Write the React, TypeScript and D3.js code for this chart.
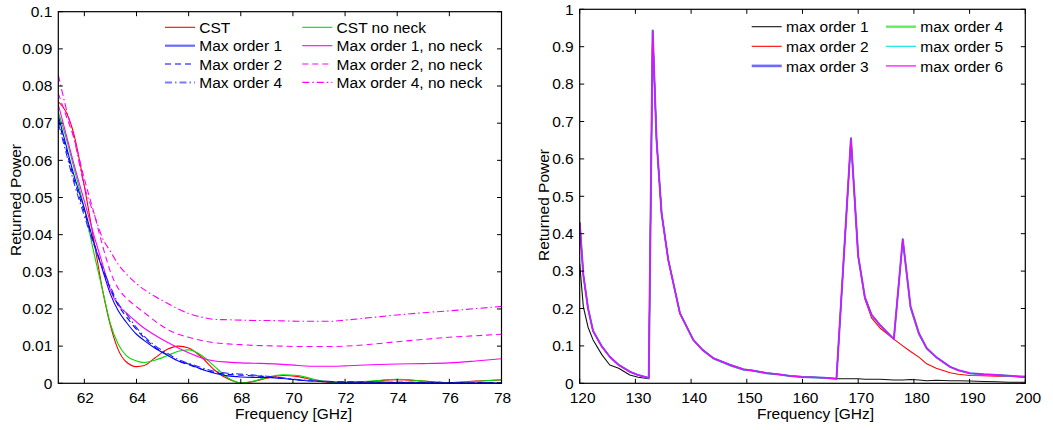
import React from "react";
import * as d3 from "d3";

// ---------- Left panel data (61–78 GHz) ----------
const freqL = [61, 61.3, 61.6, 62, 62.4, 62.7, 63, 63.3, 63.6, 64, 64.3, 64.7, 65.2, 65.6, 66, 66.5, 67, 67.5, 68, 68.5, 69, 69.6, 70.2, 70.8, 71.5, 72, 73, 74, 75, 76, 77, 78];
const cst = [0.0758, 0.073, 0.067, 0.053, 0.037, 0.025, 0.0155, 0.009, 0.0058, 0.0045, 0.0048, 0.0068, 0.0092, 0.01, 0.0095, 0.007, 0.0035, 0.0012, 0.0001, 0.0005, 0.0014, 0.0021, 0.0018, 0.0009, 0.0002, 0.0001, 0.0005, 0.001, 0.0006, 0.0002, 0.0006, 0.0009];
const cstNoNeck = [0.073, 0.066, 0.058, 0.047, 0.034, 0.025, 0.016, 0.0105, 0.0075, 0.006, 0.0056, 0.0062, 0.0075, 0.0086, 0.009, 0.0075, 0.0045, 0.0015, 0.0001, 0.0006, 0.0016, 0.0023, 0.0021, 0.0011, 0.0003, 0.0002, 0.0006, 0.0011, 0.0006, 0.0001, 0.0005, 0.001];
const maxOrder1 = [0.072, 0.064, 0.056, 0.047, 0.037, 0.0305, 0.024, 0.0195, 0.0165, 0.0132, 0.0115, 0.0095, 0.0075, 0.006, 0.0052, 0.0038, 0.0027, 0.002, 0.0017, 0.0016, 0.0016, 0.0013, 0.0009, 0.0006, 0.0004, 0.0003, 0.0003, 0.0002, 0.0002, 0.0001, 0.0001, 0.0001];
const maxOrder2 = [0.071, 0.063, 0.055, 0.046, 0.037, 0.031, 0.0255, 0.021, 0.018, 0.0145, 0.0122, 0.0098, 0.0076, 0.006, 0.005, 0.0038, 0.0029, 0.0024, 0.0022, 0.002, 0.0018, 0.0014, 0.0009, 0.0006, 0.0004, 0.0004, 0.0003, 0.0003, 0.0003, 0.0002, 0.0002, 0.0002];
const maxOrder4 = [0.07, 0.062, 0.054, 0.045, 0.0365, 0.031, 0.026, 0.0215, 0.0188, 0.015, 0.0126, 0.0102, 0.008, 0.0064, 0.0054, 0.0042, 0.0032, 0.0027, 0.0025, 0.0022, 0.0019, 0.0015, 0.001, 0.0007, 0.0005, 0.0004, 0.0003, 0.0003, 0.0003, 0.0002, 0.0002, 0.0002];
const maxOrder1NoNeck = [0.075, 0.067, 0.059, 0.049, 0.039, 0.032, 0.025, 0.021, 0.019, 0.0165, 0.0148, 0.013, 0.011, 0.0095, 0.0082, 0.0068, 0.006, 0.0057, 0.0055, 0.0054, 0.0053, 0.0051, 0.0048, 0.0046, 0.0046, 0.0047, 0.005, 0.0052, 0.0053, 0.0055, 0.006, 0.0066];
const maxOrder2NoNeck = [0.078, 0.072, 0.066, 0.055, 0.045, 0.037, 0.03, 0.0255, 0.023, 0.0206, 0.019, 0.0168, 0.0145, 0.0132, 0.0124, 0.0115, 0.0109, 0.0106, 0.0104, 0.0102, 0.0101, 0.01, 0.0099, 0.0099, 0.0099, 0.01, 0.0105, 0.0112, 0.0118, 0.0124, 0.0128, 0.0132];
const maxOrder4NoNeck = [0.083, 0.074, 0.066, 0.053, 0.045, 0.039, 0.0355, 0.032, 0.0295, 0.0268, 0.0252, 0.0234, 0.0215, 0.02, 0.0188, 0.0178, 0.0172, 0.0171, 0.017, 0.0169, 0.0169, 0.0168, 0.0167, 0.0167, 0.0167, 0.017, 0.0177, 0.0184, 0.019, 0.0195, 0.0201, 0.0207];

const xTicksL = [62, 64, 66, 68, 70, 72, 74, 76, 78];
const yTicksL = [0, 0.01, 0.02, 0.03, 0.04, 0.05, 0.06, 0.07, 0.08, 0.09, 0.1];

// ---------- Right panel data (120–200 GHz) ----------
const freqR = [120, 120.65, 121.5, 122.4, 124, 125.4, 127, 129, 130.5, 132.4, 133.1, 133.8, 134.7, 135.9, 138, 140.4, 142, 144, 147, 149.4, 151, 153.6, 155.5, 157.8, 160, 163.8, 166.1, 168.7, 170, 171.2, 172.4, 173.9, 176.4, 178, 179.4, 180.9, 182.3, 184, 186.5, 188, 190.1, 192.5, 194.9, 197, 199.6, 200];
const order1 = [0.32, 0.205, 0.15, 0.116, 0.076, 0.049, 0.04, 0.022, 0.016, 0.012, 0.943, 0.65, 0.455, 0.33, 0.187, 0.116, 0.09, 0.067, 0.049, 0.037, 0.034, 0.027, 0.024, 0.0196, 0.017, 0.015, 0.012, 0.012, 0.012, 0.011, 0.011, 0.011, 0.009, 0.009, 0.01, 0.009, 0.007, 0.008, 0.007, 0.007, 0.006, 0.005, 0.004, 0.003, 0.003, 0.003];
const order2 = [0.43, 0.29, 0.2, 0.14, 0.098, 0.071, 0.049, 0.031, 0.022, 0.014, 0.943, 0.65, 0.455, 0.33, 0.187, 0.116, 0.09, 0.067, 0.05, 0.038, 0.035, 0.028, 0.025, 0.02, 0.018, 0.015, 0.013, 0.655, 0.34, 0.225, 0.175, 0.148, 0.118, 0.1, 0.085, 0.07, 0.052, 0.04, 0.028, 0.024, 0.021, 0.02, 0.019, 0.019, 0.019, 0.019];
const order3 = [0.43, 0.29, 0.2, 0.14, 0.098, 0.071, 0.049, 0.031, 0.022, 0.014, 0.943, 0.65, 0.455, 0.33, 0.187, 0.116, 0.09, 0.067, 0.049, 0.037, 0.034, 0.027, 0.024, 0.0196, 0.017, 0.015, 0.012, 0.655, 0.34, 0.23, 0.183, 0.156, 0.118, 0.385, 0.205, 0.134, 0.094, 0.07, 0.044, 0.035, 0.027, 0.024, 0.022, 0.02, 0.017, 0.017];
const order4 = [0.43, 0.29, 0.2, 0.14, 0.098, 0.071, 0.049, 0.031, 0.022, 0.014, 0.943, 0.65, 0.455, 0.33, 0.187, 0.116, 0.09, 0.066, 0.047, 0.036, 0.034, 0.027, 0.024, 0.0196, 0.017, 0.015, 0.012, 0.655, 0.34, 0.23, 0.183, 0.156, 0.118, 0.385, 0.2, 0.13, 0.092, 0.069, 0.044, 0.034, 0.026, 0.024, 0.022, 0.02, 0.018, 0.018];
const order5 = [0.43, 0.29, 0.2, 0.14, 0.098, 0.071, 0.049, 0.031, 0.022, 0.014, 0.943, 0.65, 0.455, 0.33, 0.187, 0.116, 0.09, 0.067, 0.049, 0.037, 0.034, 0.027, 0.024, 0.0196, 0.017, 0.015, 0.012, 0.655, 0.34, 0.23, 0.183, 0.156, 0.118, 0.385, 0.205, 0.134, 0.094, 0.07, 0.044, 0.035, 0.027, 0.024, 0.022, 0.02, 0.018, 0.018];
const order6 = [0.43, 0.29, 0.2, 0.14, 0.098, 0.071, 0.049, 0.031, 0.022, 0.014, 0.94, 0.65, 0.455, 0.33, 0.187, 0.116, 0.09, 0.067, 0.049, 0.037, 0.034, 0.027, 0.024, 0.0196, 0.017, 0.015, 0.012, 0.653, 0.34, 0.23, 0.183, 0.156, 0.118, 0.385, 0.205, 0.134, 0.094, 0.07, 0.044, 0.035, 0.027, 0.024, 0.022, 0.02, 0.017, 0.016];

const xTicksR = [120, 130, 140, 150, 160, 170, 180, 190, 200];
const yTicksR = [0, 0.1, 0.2, 0.3, 0.4, 0.5, 0.6, 0.7, 0.8, 0.9, 1];

const FONT = "'Liberation Sans', Arial, Helvetica, sans-serif";
const FS = 15.5;

type Series = { name: string; xs: number[]; ys: number[]; color: string; width: number; dash?: string; legendColor?: string; legendWidth?: number };

const leftSeries: Series[] = [
  { name: "CST", xs: freqL, ys: cst, color: "#ff0000", width: 1.1 },
  { name: "CST no neck", xs: freqL, ys: cstNoNeck, color: "#00dd00", width: 1.1 },
  { name: "Max order 1", xs: freqL, ys: maxOrder1, color: "#0000ff", width: 1.1, legendColor: "#6a6aff", legendWidth: 2.2 },
  { name: "Max order 1, no neck", xs: freqL, ys: maxOrder1NoNeck, color: "#ff00ff", width: 1.1 },
  { name: "Max order 2", xs: freqL, ys: maxOrder2, color: "#0000ff", width: 1.1, dash: "6,4" },
  { name: "Max order 2, no neck", xs: freqL, ys: maxOrder2NoNeck, color: "#ff00ff", width: 1.1, dash: "6,4" },
  { name: "Max order 4", xs: freqL, ys: maxOrder4, color: "#2a2aff", width: 1.1, dash: "7,3,1.5,3", legendColor: "#7a7aff", legendWidth: 2 },
  { name: "Max order 4, no neck", xs: freqL, ys: maxOrder4NoNeck, color: "#ff00ff", width: 1.1, dash: "7,3,1.5,3" },
];

const rightSeries: Series[] = [
  { name: "max order 1", xs: freqR, ys: order1, color: "#111111", width: 1.1 },
  { name: "max order 4", xs: freqR, ys: order4, color: "#33dd33", width: 1.4, legendColor: "#5fee5f", legendWidth: 2.4 },
  { name: "max order 2", xs: freqR, ys: order2, color: "#ff0000", width: 1.1 },
  { name: "max order 5", xs: freqR, ys: order5, color: "#00e5e5", width: 1.1 },
  { name: "max order 3", xs: freqR, ys: order3, color: "#5c5cff", width: 2, legendColor: "#6a6aff", legendWidth: 2.6 },
  { name: "max order 6", xs: freqR, ys: order6, color: "#ff00ff", width: 1.1, legendColor: "#ff55ff", legendWidth: 1.8 },
];
// draw order for right panel (order 6 on top)
const rightDrawOrder = ["max order 1", "max order 2", "max order 4", "max order 5", "max order 3", "max order 6"];

type PanelProps = {
  id: string;
  x0: number; x1: number; y0: number; y1: number;
  xDomain: [number, number]; yDomain: [number, number];
  xTicks: number[]; yTicks: number[];
  yDigits: number;
  series: Series[];
  drawOrder?: string[];
  curve: d3.CurveFactory;
  legend: { col: number[]; rowY: number[]; lineLen: number; textGap: number };
  xLabelX: number; yLabelX: number; yLabelY: number; yTickGap: number; xTickShift: number;
};

function Panel(p: PanelProps) {
  const xs = d3.scaleLinear().domain(p.xDomain).range([p.x0, p.x1]);
  const ys = d3.scaleLinear().domain(p.yDomain).range([p.y1, p.y0]);
  const line = (s: Series) =>
    d3.line<number>().x((_, i) => xs(s.xs[i])).y((v) => ys(v)).curve(p.curve)(s.ys) || "";
  const tl = 4.5;
  const ordered = p.drawOrder ? p.drawOrder.map((n) => p.series.find((s) => s.name === n)!) : p.series;
  const nRows = p.legend.rowY.length;
  return (
    <g>
      <defs>
        <clipPath id={p.id}>
          <rect x={p.x0} y={p.y0} width={p.x1 - p.x0} height={p.y1 - p.y0} />
        </clipPath>
      </defs>
      <g clipPath={`url(#${p.id})`}>
        {ordered.map((s) => (
          <path key={s.name} d={line(s)} fill="none" stroke={s.color} strokeWidth={s.width} strokeDasharray={s.dash} strokeLinejoin="round" />
        ))}
      </g>
      {/* ticks */}
      {p.xTicks.map((t) => (
        <g key={"xt" + t}>
          <line x1={xs(t)} x2={xs(t)} y1={p.y1} y2={p.y1 - tl} stroke="#000" strokeWidth={1} />
          <line x1={xs(t)} x2={xs(t)} y1={p.y0} y2={p.y0 + tl} stroke="#000" strokeWidth={1} />
          <text x={xs(t) + p.xTickShift} y={402.5} textAnchor="middle" fontFamily={FONT} fontSize={FS} fill="#000">{String(t)}</text>
        </g>
      ))}
      {p.yTicks.map((t) => (
        <g key={"yt" + t}>
          <line x1={p.x0} x2={p.x0 + tl} y1={ys(t)} y2={ys(t)} stroke="#000" strokeWidth={1} />
          <line x1={p.x1} x2={p.x1 - tl} y1={ys(t)} y2={ys(t)} stroke="#000" strokeWidth={1} />
          <text x={p.x0 - p.yTickGap} y={ys(t) + 5.3} textAnchor="end" fontFamily={FONT} fontSize={FS} fill="#000">{String(+t.toFixed(p.yDigits))}</text>
        </g>
      ))}
      <rect x={p.x0} y={p.y0} width={p.x1 - p.x0} height={p.y1 - p.y0} fill="none" stroke="#000" strokeWidth={1.2} />
      {/* legend */}
      {p.series.map((s, i) => {
        const col = Math.floor(i % 2);
        const row = Math.floor(i / 2);
        if (row >= nRows) return null;
        const lx = p.legend.col[col];
        const ly = p.legend.rowY[row];
        return (
          <g key={"lg" + s.name}>
            <line x1={lx} x2={lx + p.legend.lineLen} y1={ly} y2={ly} stroke={s.legendColor || s.color} strokeWidth={s.legendWidth || s.width} strokeDasharray={s.dash} />
            <text x={lx + p.legend.lineLen + p.legend.textGap} y={ly + 5.6} fontFamily={FONT} fontSize={FS} fill="#000">{s.name}</text>
          </g>
        );
      })}
      <text x={p.xLabelX} y={419} textAnchor="middle" fontFamily={FONT} fontSize={FS} fill="#000">Frequency [GHz]</text>
      <text transform={`translate(${p.yLabelX},${p.yLabelY}) rotate(-90)`} textAnchor="middle" fontFamily={FONT} fontSize={FS} fill="#000">Returned Power</text>
    </g>
  );
}

export default function App() {
  return (
    <svg width={1053} height={430} style={{ position: "absolute", left: 0, top: 0, background: "#fff" }}>
      <rect x={0} y={0} width={1053} height={430} fill="#fff" />
      <Panel
        id="clipL"
        x0={58.3} x1={501.5} y0={11.7} y1={383.3}
        xDomain={[61, 78]} yDomain={[0, 0.1]}
        xTicks={xTicksL} yTicks={yTicksL} yDigits={2}
        series={leftSeries}
        curve={d3.curveMonotoneX}
        legend={{ col: [165, 302.3], rowY: [27.3, 45.7, 64, 82.4], lineLen: 30, textGap: 4.3 }}
        xLabelX={293.5} yLabelX={20.5} yLabelY={200} yTickGap={6} xTickShift={1}
      />
      <Panel
        id="clipR"
        x0={579.7} x1={1025.3} y0={9.3} y1={383.3}
        xDomain={[120, 200]} yDomain={[0, 1]}
        xTicks={xTicksR} yTicks={yTicksR} yDigits={1}
        series={rightSeries}
        drawOrder={rightDrawOrder}
        curve={d3.curveLinear}
        legend={{ col: [751.7, 886], rowY: [26.7, 46.3, 65.9], lineLen: 30, textGap: 4.3 }}
        xLabelX={815.5} yLabelX={549} yLabelY={205} yTickGap={6} xTickShift={3}
      />
    </svg>
  );
}
